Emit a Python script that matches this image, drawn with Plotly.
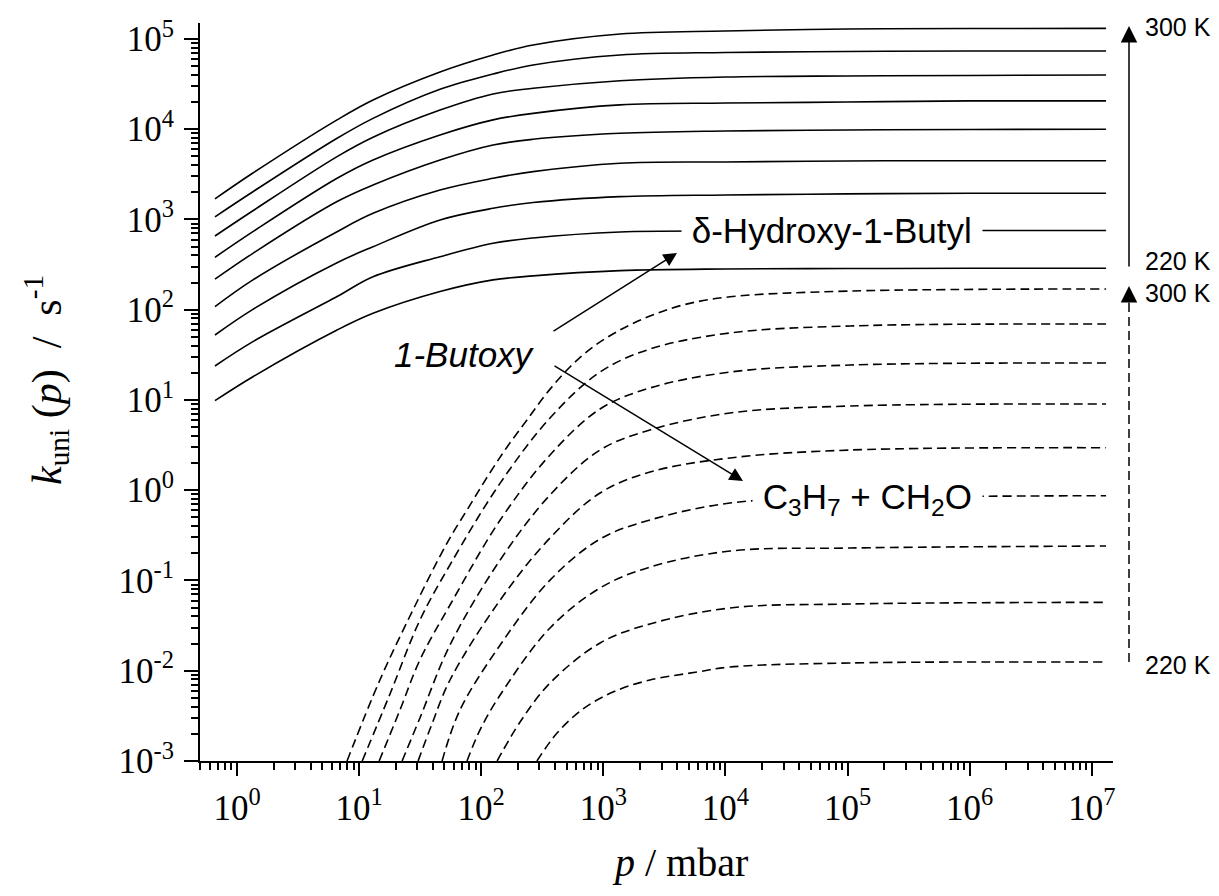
import plotly.graph_objects as go

# ---------------- data ----------------
temps = [300, 290, 280, 270, 260, 250, 240, 230, 220]

# delta-Hydroxy-1-Butyl channel (solid lines), common pressure grid / mbar
p_hb = [0.66, 1.35, 6.6, 13.0, 46.0, 125, 266, 1370, 9930, 9.9e4, 1.0e6, 1.31e7]
k_hb = {
    300: [1690, 3270, 12700, 21100, 43100, 66500, 85800, 113600, 122600, 129000, 130500, 131000],
    290: [1070, 2030, 7940, 13200, 27700, 40900, 51500, 66500, 70900, 72700, 73600, 73600],
    280: [656, 1250, 4970, 8150, 16300, 24600, 28400, 34500, 37900, 38900, 39400, 39900],
    270: [381, 733, 2860, 4560, 8640, 12700, 15000, 18600, 19500, 20000, 20600, 20600],
    260: [218, 422, 1580, 2410, 4560, 6690, 7740, 9020, 9560, 9810, 9940, 9990],
    250: [108, 214, 732, 1170, 2120, 2860, 3390, 4200, 4340, 4450, 4480, 4480],
    240: [52.5, 101, 332, 499, 987, 1330, 1540, 1790, 1870, 1920, 1950, 1950],
    230: [23.8, 44.3, 140, 232, 387, 545, 624, 727, 746, 751, 755, 755],
    220: [9.82, 18.1, 59.6, 91.3, 159, 214, 237, 271, 283, 286, 288, 288],
}

# C3H7 + CH2O channel (dashed lines)
p_dec = {
    300: [7.96, 14.8, 27.6, 52.5, 76.5, 112, 163, 237, 346, 533, 824, 1370, 2410, 4500, 10900, 1.05e5, 1.31e7],
    290: [10.6, 17.9, 31.5, 55.5, 143, 366, 940, 2410, 10900, 1.05e5, 1.31e7],
    280: [14.6, 21.6, 31.5, 55.5, 143, 366, 940, 2410, 10900, 1.05e5, 1.31e7],
    270: [22.5, 31.5, 55.5, 143, 366, 940, 2410, 10900, 1.05e5, 1.31e7],
    260: [30.4, 39.5, 55.5, 143, 366, 940, 2410, 10900, 1.05e5, 1.31e7],
    250: [47.8, 67.0, 143, 366, 940, 2410, 10900, 1.05e5, 1.31e7],
    240: [76.5, 97.8, 143, 366, 940, 2410, 10900, 1.05e5, 1.31e7],
    230: [135, 208, 366, 940, 2410, 10900, 1.05e5, 1.31e7],
    220: [286, 418, 682, 1200, 2410, 5850, 10900, 1.05e5, 1.31e7],
}
k_dec = {
    300: [1.0e-3, 7.9e-3, 0.0471, 0.260, 0.604, 1.40, 3.02, 6.00, 12.0, 23.2, 38.7, 59.6, 85.2, 113, 139, 161, 170],
    290: [1.0e-3, 5.53e-3, 0.0365, 0.149, 1.20, 6.32, 20.4, 36.7, 55.3, 66.1, 69.5],
    280: [1.0e-3, 3.67e-3, 0.0132, 0.0535, 0.468, 2.46, 7.95, 13.6, 20.4, 24.4, 25.7],
    270: [1.0e-3, 3.0e-3, 0.0193, 0.169, 0.886, 2.79, 4.65, 7.18, 8.58, 9.03],
    260: [1.0e-3, 2.57e-3, 7.9e-3, 0.0608, 0.296, 0.932, 1.59, 2.28, 2.79, 2.96],
    250: [1.0e-3, 3.67e-3, 0.0193, 0.101, 0.288, 0.468, 0.722, 0.821, 0.870],
    240: [1.0e-3, 2.21e-3, 5.39e-3, 0.0298, 0.0826, 0.141, 0.212, 0.229, 0.241],
    230: [1.0e-3, 2.70e-3, 7.31e-3, 0.0203, 0.033, 0.0496, 0.0549, 0.0573],
    220: [1.0e-3, 2.04e-3, 3.77e-3, 5.81e-3, 7.9e-3, 9.68e-3, 0.011, 0.0122, 0.0125],
}

x_exponents = list(range(0, 8))
y_exponents = list(range(-3, 6))

# ---------------- figure ----------------
W, H = 1219, 896
L, R, T, B = 200, 106, 23, 135
pw, ph = W - L - R, H - T - B

def px(xpix):
    return (xpix - L) / pw

def py(ypix):
    return (H - B - ypix) / ph

fig = go.Figure()

for t in temps:
    fig.add_trace(go.Scatter(
        x=p_hb, y=k_hb[t], mode="lines", name=f"{t} K",
        line=dict(color="black", width=1.6, shape="spline", smoothing=1.0),
        showlegend=False, hoverinfo="skip"))

for t in temps:
    fig.add_trace(go.Scatter(
        x=p_dec[t], y=k_dec[t], mode="lines", name=f"{t} K",
        line=dict(color="black", width=1.6, dash="9px,5px", shape="spline", smoothing=1.0),
        showlegend=False, hoverinfo="skip"))

serif = "Liberation Serif, Times New Roman, serif"
sans = "Liberation Sans, Arial, sans-serif"

x_tickvals = [10.0 ** e for e in x_exponents]
x_ticktext = [f"10<sup>{e}</sup>" for e in x_exponents]
x_minor = [m * 10.0 ** e for e in range(-1, 8) for m in range(2, 10)]
y_tickvals = [10.0 ** e for e in y_exponents]
y_ticktext = [f"10<sup>{e}</sup>" for e in y_exponents]
y_minor = [m * 10.0 ** e for e in range(-3, 6) for m in range(2, 10)]

fig.update_xaxes(
    type="log", range=[-0.303, 7.174],
    showline=True, linecolor="black", linewidth=2, mirror=False,
    ticks="outside", ticklen=13, tickwidth=2, tickcolor="black",
    tickmode="array", tickvals=x_tickvals, ticktext=x_ticktext,
    tickfont=dict(family=serif, size=35, color="black"),
    showgrid=False, zeroline=False, ticklabelstandoff=2,
    minor=dict(tickmode="array", tickvals=x_minor, ticks="outside",
               ticklen=7, tickwidth=1.5, tickcolor="black", showgrid=False),
)
fig.update_yaxes(
    type="log", range=[-3, 5.177],
    showline=True, linecolor="black", linewidth=2, mirror=False,
    ticks="outside", ticklen=14, tickwidth=2, tickcolor="black",
    tickmode="array", tickvals=y_tickvals, ticktext=y_ticktext,
    tickfont=dict(family=serif, size=35, color="black"),
    showgrid=False, zeroline=False, ticklabelstandoff=3,
    minor=dict(tickmode="array", tickvals=y_minor, ticks="outside",
               ticklen=7, tickwidth=1.5, tickcolor="black", showgrid=False),
)

ann = []
# axis titles
ann.append(dict(xref="paper", yref="paper", x=px(680), y=py(862), text="<i>p</i> / mbar",
                showarrow=False, font=dict(family=serif, size=40, color="black"),
                xanchor="center", yanchor="middle"))
ann.append(dict(xref="paper", yref="paper", x=px(46), y=py(380),
                text="<i>k</i><sub>uni</sub> (<i>p</i>)&nbsp;&nbsp;/&nbsp;&nbsp;s<sup>-1</sup>",
                showarrow=False, textangle=-90, font=dict(family=serif, size=42, color="black"),
                xanchor="center", yanchor="middle"))
# curve labels
ann.append(dict(xref="paper", yref="paper", x=px(832), y=py(230),
                text="&nbsp;\u03b4-Hydroxy-1-Butyl&nbsp;", showarrow=False, bgcolor="white",
                borderpad=0, font=dict(family=sans, size=35, color="black"),
                xanchor="center", yanchor="middle"))
ann.append(dict(xref="paper", yref="paper", x=px(867), y=py(499),
                text="&nbsp;C<sub>3</sub>H<sub>7</sub> + CH<sub>2</sub>O&nbsp;", showarrow=False,
                bgcolor="white", borderpad=0, font=dict(family=sans, size=35, color="black"),
                xanchor="center", yanchor="middle"))
ann.append(dict(xref="paper", yref="paper", x=px(464), y=py(354),
                text="<i>1-Butoxy</i>", showarrow=False,
                font=dict(family=sans, size=35, color="black"),
                xanchor="center", yanchor="middle"))
# reaction arrows
ann.append(dict(xref="paper", yref="paper", x=px(677), y=py(253), ax=552 - 677, ay=332 - 253,
                text="", showarrow=True, arrowhead=2, arrowsize=1.8, arrowwidth=1.5,
                arrowcolor="black"))
ann.append(dict(xref="paper", yref="paper", x=px(743), y=py(481), ax=553 - 743, ay=365 - 481,
                text="", showarrow=True, arrowhead=2, arrowsize=1.8, arrowwidth=1.5,
                arrowcolor="black"))
# temperature arrows on the right
ann.append(dict(xref="paper", yref="paper", x=px(1129), y=py(26), ax=0, ay=268 - 26,
                text="", showarrow=True, arrowhead=2, arrowsize=2.2, arrowwidth=1.5,
                arrowcolor="black"))
ann.append(dict(xref="paper", yref="paper", x=px(1129), y=py(286), ax=0, ay=18,
                text="", showarrow=True, arrowhead=2, arrowsize=2.2, arrowwidth=1.5,
                arrowcolor="black"))
for label, yp in [("300 K", 27), ("220 K", 261), ("300 K", 293), ("220 K", 665)]:
    ann.append(dict(xref="paper", yref="paper", x=px(1143), y=py(yp), text=label,
                    showarrow=False, font=dict(family=sans, size=25, color="black"),
                    xanchor="left", yanchor="middle"))

shapes = [dict(type="line", xref="paper", yref="paper", x0=px(1129), x1=px(1129),
               y0=py(662), y1=py(300), line=dict(color="black", width=1.5, dash="9px,5px"))]

fig.update_layout(
    width=W, height=H, autosize=False,
    margin=dict(l=L, r=R, t=T, b=B),
    paper_bgcolor="white", plot_bgcolor="white",
    annotations=ann, shapes=shapes, showlegend=False,
)

fig.write_html(
    "out.html",
    config={"displayModeBar": False},
    post_script="document.body.style.margin='0';document.body.style.overflow='hidden';",
)
